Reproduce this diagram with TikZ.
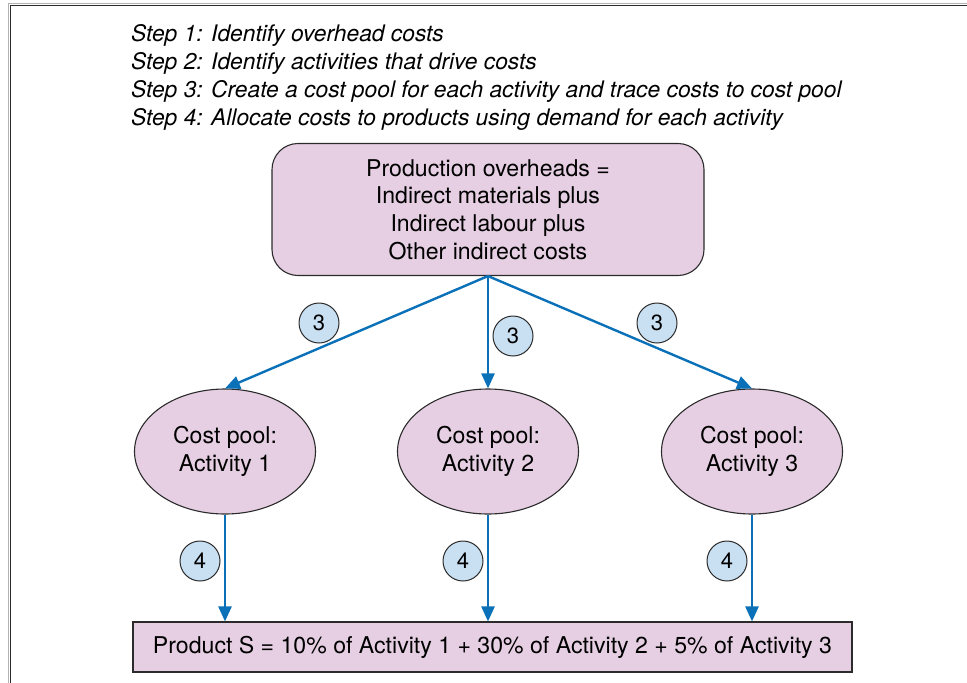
\documentclass[tikz,border=0pt]{standalone}
\usepackage{fontspec}
\setmainfont{TeX Gyre Heros}
\usetikzlibrary{shapes.geometric,arrows.meta}
\definecolor{poolpink}{HTML}{E6CFE3}
\definecolor{stepblue}{HTML}{C9E0F3}
\definecolor{flowblue}{HTML}{0A71B9}
\definecolor{edgegray}{HTML}{2B2B2B}
\tikzset{
	costbox/.style={draw=edgegray,line width=1.1pt,fill=poolpink,align=center,inner sep=0pt,font=\fontsize{23.1}{27.7}\selectfont},
	pool/.style={costbox,ellipse,minimum width=181pt,minimum height=125pt},
	stepno/.style={circle,draw=edgegray,line width=1pt,fill=stepblue,minimum size=40pt,inner sep=0pt,font=\fontsize{22}{22}\selectfont},
	steptext/.style={anchor=base west,inner sep=0pt,font=\itshape\fontsize{22.8}{22}\selectfont},
	flow/.style={flowblue,line width=2.4pt,-{Triangle[length=15pt,width=13pt]}},
}
\begin{document}
\begin{tikzpicture}[x=1pt,y=-1pt]
	\useasboundingbox (0,0) rectangle (967,683);
	% frame
	\draw[gray!60,line width=1pt] (8.8,683) -- (8.8,3.8) -- (967,3.8);
	\draw[edgegray,line width=1.8pt] (10.5,683) -- (10.5,5.5) -- (967,5.5);
	% steps
	\node[steptext] (step1) at (131,41) {Step 1: Identify overhead costs};
	\node[steptext] (step2) at (131,69) {Step 2: Identify activities that drive costs};
	\node[steptext] (step3) at (131,97) {Step 3: Create a cost pool for each activity and trace costs to cost pool};
	\node[steptext] (step4) at (131,125) {Step 4: Allocate costs to products using demand for each activity};
	% boxes
	\node[costbox,rounded corners=26pt,minimum width=432pt,minimum height=132pt] (overhead) at (488,209.5)
		{Production overheads =\\Indirect materials plus\\Indirect labour plus\\Other indirect costs};
	\node[pool] (pool1) at (225,451.5) {Cost pool:\\Activity 1};
	\node[pool] (pool2) at (488,451.5) {Cost pool:\\Activity 2};
	\node[pool] (pool3) at (752,451.5) {Cost pool:\\Activity 3};
	\node[costbox,minimum width=719pt,minimum height=50pt] (product) at (492.5,647)
		{Product S = 10\% of Activity 1 + 30\% of Activity 2 + 5\% of Activity 3};
	% arrows
	\draw[flow] (overhead.south) -- (pool1.north);
	\draw[flow] (overhead.south) -- (pool2.north);
	\draw[flow] (overhead.south) -- (pool3.north);
	\draw[flow] (pool1.south) -- (pool1.south |- product.north);
	\draw[flow] (pool2.south) -- (pool2.south |- product.north);
	\draw[flow] (pool3.south) -- (pool3.south |- product.north);
	% step numbers
	\node[stepno] (trace1) at (319,323) {3};
	\node[stepno] (trace2) at (513,336) {3};
	\node[stepno] (trace3) at (657,323) {3};
	\node[stepno] (alloc1) at (200,561) {4};
	\node[stepno] (alloc2) at (463,561) {4};
	\node[stepno] (alloc3) at (727,561) {4};
\end{tikzpicture}
\end{document}
